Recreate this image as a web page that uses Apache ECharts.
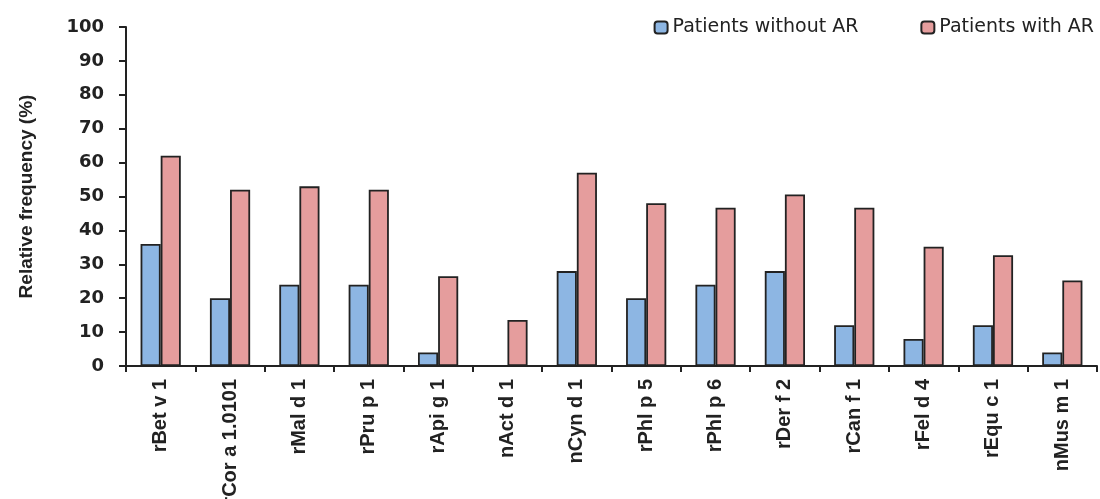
<!DOCTYPE html>
<html>
<head>
<meta charset="utf-8">
<script src="https://cdn.jsdelivr.net/npm/echarts@6/dist/echarts.min.js"></script>
<style>
html,body{margin:0;padding:0;background:#fff;}
#chart{width:1100px;height:499px;}
</style>
</head>
<body>
<div id="chart"></div>
<script>
const categories = ['rBet v 1','rCor a 1.0101','rMal d 1','rPru p 1','rApi g 1','nAct d 1','nCyn d 1','rPhl p 5','rPhl p 6','rDer f 2','rCan f 1','rFel d 4','rEqu c 1','nMus m 1'];
const withoutAR = [36, 20, 24, 24, 4, 0, 28, 20, 24, 28, 12, 8, 12, 4];
const withAR = [62, 52, 53, 52, 26.5, 13.6, 57, 48, 46.7, 50.6, 46.7, 35.2, 32.7, 25.2];
const seriesNames = ['Patients without AR', 'Patients with AR'];
const yTicks = [0, 10, 20, 30, 40, 50, 60, 70, 80, 90, 100];

const chart = echarts.init(document.getElementById('chart'));
const font = 'Liberation Sans, Arial, sans-serif';
const wideFont = 'DejaVu Sans, sans-serif';
chart.setOption({
  animation: false,
  backgroundColor: '#ffffff',
  legend: {
    data: seriesNames,
    top: 13,
    right: 1,
    itemWidth: 13,
    itemHeight: 12,
    itemGap: 62,
    textStyle: { fontFamily: wideFont, fontSize: 19, color: '#222' }
  },
  grid: { left: 126, right: 3, top: 27, bottom: 133, outerBoundsMode: 'none', containLabel: false },
  xAxis: {
    type: 'category',
    data: categories,
    axisLine: { lineStyle: { color: '#222', width: 2 } },
    axisTick: { show: true, length: 6, lineStyle: { color: '#222', width: 2 } },
    axisLabel: {
      rotate: 90, interval: 0, margin: 13,
      fontFamily: font, fontSize: 20, fontWeight: 'bold', color: '#222'
    }
  },
  yAxis: {
    type: 'value',
    min: 0, max: 100, interval: 10,
    name: 'Relative frequency (%)',
    nameLocation: 'middle',
    nameGap: 90,
    nameRotate: 90,
    nameTextStyle: { fontFamily: font, fontSize: 19, fontWeight: 'bold', color: '#222' },
    axisLine: { show: true, lineStyle: { color: '#222', width: 2 } },
    axisTick: { show: true, length: 7, lineStyle: { color: '#222', width: 2 } },
    splitLine: { show: false },
    axisLabel: {
      margin: 22,
      fontFamily: wideFont, fontSize: 18, fontWeight: 'bold', color: '#222',
      formatter: v => yTicks.includes(v) ? String(v) : ''
    }
  },
  series: [
    {
      name: seriesNames[0], type: 'bar', data: withoutAR,
      barGap: '0%', barCategoryGap: '42%',
      itemStyle: { color: '#8db6e3', borderColor: '#222', borderWidth: 1.8 }
    },
    {
      name: seriesNames[1], type: 'bar', data: withAR,
      itemStyle: { color: '#e59d9d', borderColor: '#222', borderWidth: 1.8 }
    }
  ]
});
</script>
</body>
</html>
